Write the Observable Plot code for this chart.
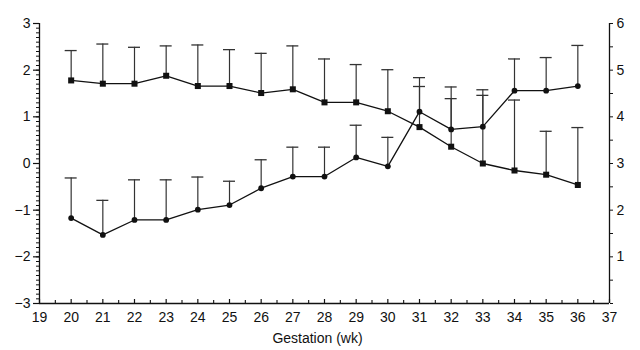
<!DOCTYPE html>
<html>
<head>
<meta charset="utf-8">
<script src="https://cdn.jsdelivr.net/npm/d3@7"></script>
<script src="https://cdn.jsdelivr.net/npm/@observablehq/plot@0.6"></script>
<style>
  html, body { margin: 0; padding: 0; background: #fff; }
  svg { font-family: "Liberation Sans", Arial, Helvetica, sans-serif; }
</style>
</head>
<body>
<div id="chart"></div>
<script>
// Gestational week
const weeks = [20, 21, 22, 23, 24, 25, 26, 27, 28, 29, 30, 31, 32, 33, 34, 35, 36];
// Circle series (left axis units)
const circleMean = [-1.17, -1.53, -1.21, -1.21, -0.99, -0.89, -0.53, -0.28, -0.28, 0.13, -0.06, 1.11, 0.73, 0.79, 1.56, 1.56, 1.66];
const circleSD   = [0.86, 0.74, 0.86, 0.86, 0.70, 0.51, 0.61, 0.63, 0.63, 0.69, 0.62, 0.73, 0.91, 0.79, 0.68, 0.71, 0.87];
// Square series (right axis units)
const squareMean = [4.78, 4.71, 4.71, 4.88, 4.66, 4.66, 4.51, 4.59, 4.31, 4.31, 4.12, 3.78, 3.36, 3.00, 2.85, 2.76, 2.54];
const squareSD   = [0.64, 0.85, 0.78, 0.64, 0.88, 0.78, 0.85, 0.93, 0.93, 0.81, 0.89, 0.87, 1.03, 1.46, 1.51, 0.93, 1.23];
// Axis ticks
const xTicks = d3.range(19, 38, 1);
const xMinor = d3.range(19.5, 37, 1);
const leftTicks = [-3, -2, -1, 0, 1, 2, 3];
const leftMinor = d3.range(-30, 31).map(d => d / 10);
const rightTicks = [0, 1, 2, 3, 4, 5, 6];
const rightMinor = [0.5, 1.5, 2.5, 3.5, 4.5, 5.5];
const rightOffset = 3; // right axis value = left axis value + 3
const xLabel = "Gestation (wk)";

const circles = weeks.map((w, i) => ({w, v: circleMean[i], top: circleMean[i] + circleSD[i]}));
const squares = weeks.map((w, i) => ({w, v: squareMean[i] - rightOffset, top: squareMean[i] - rightOffset + squareSD[i]}));

const ink = "#111";
const fs = 14;
const chart = Plot.plot({
  width: 640,
  height: 350,
  marginLeft: 39,
  marginRight: 31,
  marginTop: 23,
  marginBottom: 47,
  style: {fontSize: "14px", fontFamily: "'Liberation Sans', Arial, sans-serif", color: ink, background: "#fff"},
  x: {domain: [19, 37]},
  y: {domain: [-3, 3]},
  marks: [
    // axis lines
    Plot.ruleX([19, 37], {stroke: ink, strokeWidth: 1.3}),
    Plot.ruleY([-3], {stroke: ink, strokeWidth: 1.3}),
    // left axis
    Plot.axisY({anchor: "left", ticks: leftTicks, tickSize: 6, tickPadding: 3, fontSize: fs,
      tickFormat: d => d < 0 ? "\u2212" + (-d) : String(d), label: null, stroke: ink, strokeWidth: 1.2}),
    Plot.axisY({anchor: "left", ticks: leftMinor, tickSize: 3, tickFormat: () => "", label: null, stroke: ink}),
    // right axis
    Plot.axisY({anchor: "right", ticks: rightTicks.map(d => d - rightOffset), tickSize: 3, tickPadding: 4, fontSize: fs,
      tickFormat: d => (d + rightOffset) === 0 ? "" : String(d + rightOffset), label: null, stroke: ink}),
    Plot.axisY({anchor: "right", ticks: rightMinor.map(d => d - rightOffset), tickSize: 3, tickFormat: () => "", label: null, stroke: ink}),
    // bottom axis labels
    Plot.axisX({ticks: xTicks, tickSize: 0, tickPadding: 9, fontSize: fs, tickFormat: d => String(d), label: null}),
    // inward x ticks
    Plot.ruleX(xTicks, {x: d => d, y1: -3, y2: -3, insetTop: -4, stroke: ink, strokeWidth: 1.2}),
    Plot.ruleX(xMinor, {x: d => d, y1: -3, y2: -3, insetTop: -3, stroke: ink, strokeWidth: 1.1}),
    Plot.text([xLabel], {frameAnchor: "bottom", dy: 39, dx: -7, fontSize: fs, fill: ink}),
    // error bars (upper only)
    Plot.ruleX(squares, {x: "w", y1: "v", y2: "top", stroke: "#333", strokeWidth: 1.2}),
    Plot.ruleY(squares, {y: "top", x1: "w", x2: "w", insetLeft: -6, insetRight: -6, stroke: "#333", strokeWidth: 1.3}),
    Plot.ruleX(circles, {x: "w", y1: "v", y2: "top", stroke: "#333", strokeWidth: 1.2}),
    Plot.ruleY(circles, {y: "top", x1: "w", x2: "w", insetLeft: -6, insetRight: -6, stroke: "#333", strokeWidth: 1.3}),
    // lines
    Plot.line(squares, {x: "w", y: "v", stroke: ink, strokeWidth: 1.3}),
    Plot.line(circles, {x: "w", y: "v", stroke: ink, strokeWidth: 1.3}),
    // markers
    Plot.dot(squares, {x: "w", y: "v", symbol: "square", r: 3.4, fill: ink, stroke: "none"}),
    Plot.dot(circles, {x: "w", y: "v", symbol: "circle", r: 2.9, fill: ink, stroke: "none"})
  ]
});
document.getElementById("chart").appendChild(chart);
</script>
</body>
</html>
